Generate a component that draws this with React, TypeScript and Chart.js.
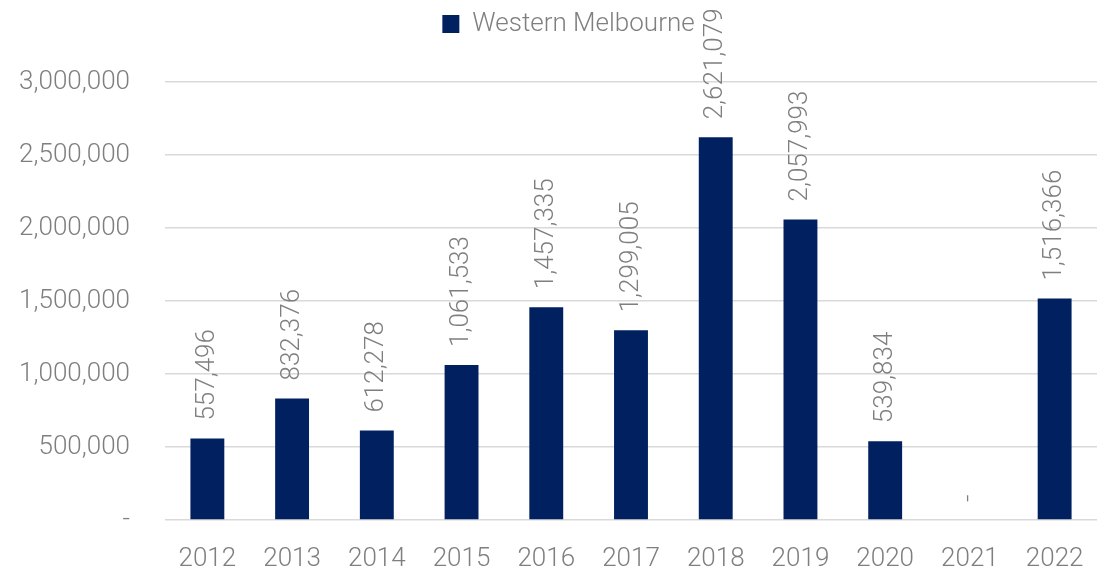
import React, { useEffect, useRef } from "react";
import { Chart, registerables } from "chart.js";

Chart.register(...registerables);

const categories = ["2012", "2013", "2014", "2015", "2016", "2017", "2018", "2019", "2020", "2021", "2022"];
const values = [557496, 832376, 612278, 1061533, 1457335, 1299005, 2621079, 2057993, 539834, 0, 1516366];
const seriesName = "Western Melbourne";
const yTicks = [0, 500000, 1000000, 1500000, 2000000, 2500000, 3000000];

const FONT = "Roboto";
const GREY = "#7f7f7f";
const BAR = "#002060";
const FS = 26;

const fmt = (v: number) => (v === 0 ? "-" : v.toLocaleString("en-US"));

const labelPlugin = {
  id: "barLabels",
  afterDatasetsDraw(chart: any) {
    const ctx = chart.ctx;
    const meta = chart.getDatasetMeta(0);
    ctx.save();
    ctx.font = `300 ${FS}px ${FONT}`;
    ctx.fillStyle = GREY;
    ctx.textAlign = "left";
    ctx.textBaseline = "middle";
    meta.data.forEach((bar: any, i: number) => {
      const v = values[i];
      ctx.save();
      ctx.translate(bar.x, bar.y - 18);
      ctx.rotate(-Math.PI / 2);
      ctx.fillText(fmt(v), 0, 0);
      ctx.restore();
    });
    ctx.restore();
  },
};

const legendSpace = {
  id: "legendSpace",
  beforeInit(chart: any) {
    if (!chart.legend) return;
    const orig = chart.legend.fit;
    chart.legend.fit = function () {
      orig.call(this);
      this.height += 35;
    };
  },
  afterLayout(chart: any) {
    if (!chart.legend) return;
    chart.legend.left += 16;
    chart.legend.right += 16;
  },
};

export default function App() {
  const ref = useRef<HTMLCanvasElement>(null);
  useEffect(() => {
    if (!ref.current) return;
    const chart = new Chart(ref.current, {
      type: "bar",
      data: {
        labels: categories,
        datasets: [
          {
            label: seriesName,
            data: values,
            backgroundColor: BAR,
            borderWidth: 0,
            barPercentage: 0.4,
            categoryPercentage: 1,
          },
        ],
      },
      options: {
        animation: false,
        responsive: true,
        maintainAspectRatio: false,
        layout: { padding: { left: 8, right: 12, top: 8, bottom: 0 } },
        plugins: {
          tooltip: { enabled: false },
          legend: {
            position: "top",
            labels: {
              font: { family: FONT, size: FS, weight: "300" as any },
              color: GREY,
              boxWidth: 17,
              boxHeight: 18,
              padding: 3,
            },
          },
        },
        scales: {
          x: {
            grid: { display: false, drawTicks: false },
            border: { display: false },
            ticks: {
              font: { family: FONT, size: FS, weight: "300" as any },
              color: GREY,
              padding: 24,
            },
            afterFit: (s: any) => {
              s.height = 49;
              s.paddingLeft = 0;
              s.paddingRight = 0;
              s._computeLabelArea = () => undefined;
            },
          },
          y: {
            min: 0,
            max: 3000000,
            afterBuildTicks: (s: any) => {
              s.ticks = yTicks.map((v) => ({ value: v }));
            },
            grid: { color: "#d9d9d9", lineWidth: 1.5, drawTicks: false },
            border: { display: false },
            ticks: {
              font: { family: FONT, size: FS, weight: "300" as any },
              color: GREY,
              padding: 35,
              callback: (v: any) => fmt(Number(v)),
            },
            afterFit: (s: any) => {
              s.width = 157;
              s.paddingTop = 10;
              s.paddingBottom = 10;
              s._computeLabelArea = () => undefined;
            },
          },
        },
      },
      plugins: [labelPlugin, legendSpace],
    });
    return () => chart.destroy();
  }, []);
  return (
    <div style={{ position: "absolute", left: 0, top: 0, width: "1109px", height: "569px" }}>
      <canvas ref={ref} />
    </div>
  );
}
